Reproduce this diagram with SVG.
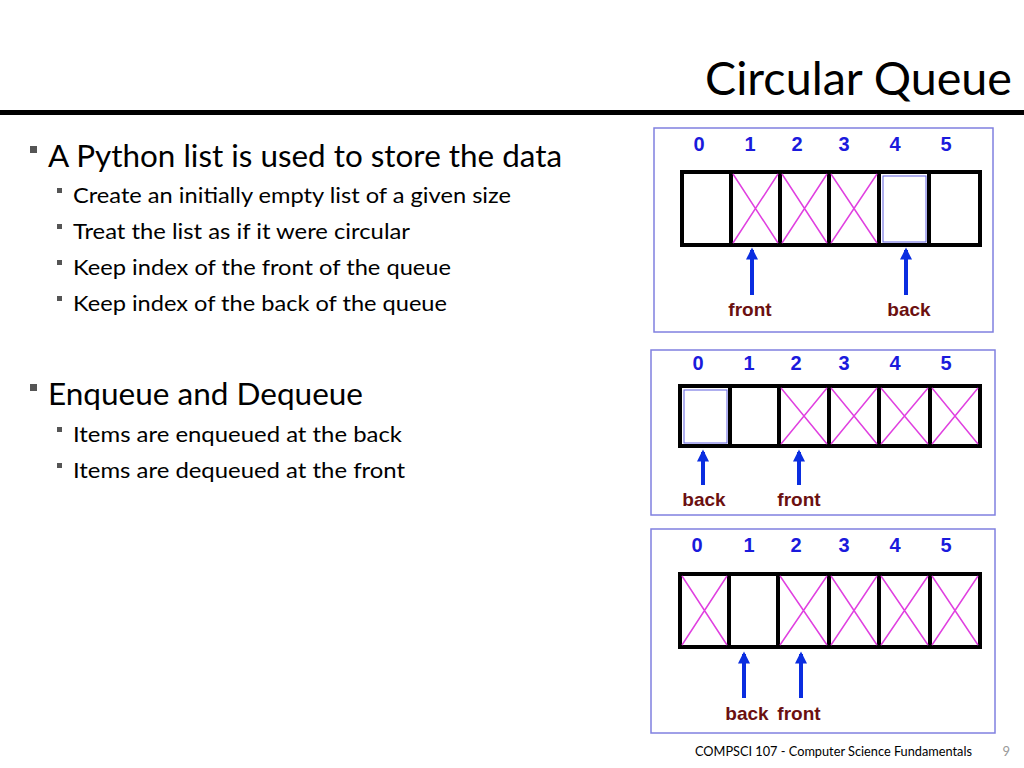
<svg xmlns="http://www.w3.org/2000/svg" width="1024" height="768" viewBox="0 0 1024 768">
<defs>
<style>
.t{font-family:"Lato","Liberation Sans",sans-serif;fill:#000}
.n{font-family:"Liberation Sans",sans-serif;font-weight:bold;font-size:20px;fill:#1a1adc;text-anchor:middle}
.l{font-family:"Liberation Sans",sans-serif;font-weight:bold;font-size:19px;fill:#6b1010;text-anchor:middle}
.pn{fill:#fff;stroke:#8080e0;stroke-width:1.5}
.c{fill:#fff;stroke:#000;stroke-width:4}
.x{stroke:#e040e0;stroke-width:1.5}
.a{stroke:#0a2de0;stroke-width:4;marker-end:url(#ah)}
.b{fill:#555}
</style>
<marker id="ah" viewBox="0 0 10 10" refX="8" refY="5" markerWidth="3.5" markerHeight="3" orient="auto"><path d="M0,0L10,5L0,10z" fill="#0a2de0"/></marker>
</defs>
<rect width="1024" height="768" fill="#fff"/>
<text class="t" x="705" y="95" font-size="46" textLength="307" lengthAdjust="spacingAndGlyphs">Circular Queue</text>
<rect x="0" y="110" width="1024" height="5" fill="#000"/>
<g id="bullets">
<rect class="b" x="30" y="146" width="7" height="7"/>
<text class="t" x="48" y="167" font-size="30" textLength="514" lengthAdjust="spacingAndGlyphs">A Python list is used to store the data</text>
<rect class="b" x="57" y="188" width="5" height="5"/>
<text class="t" x="73" y="203" font-size="22" textLength="438" lengthAdjust="spacingAndGlyphs">Create an initially empty list of a given size</text>
<rect class="b" x="57" y="224" width="5" height="5"/>
<text class="t" x="73" y="239" font-size="22" textLength="337" lengthAdjust="spacingAndGlyphs">Treat the list as if it were circular</text>
<rect class="b" x="57" y="260" width="5" height="5"/>
<text class="t" x="73" y="275" font-size="22" textLength="378" lengthAdjust="spacingAndGlyphs">Keep index of the front of the queue</text>
<rect class="b" x="57" y="296" width="5" height="5"/>
<text class="t" x="73" y="311" font-size="22" textLength="374" lengthAdjust="spacingAndGlyphs">Keep index of the back of the queue</text>
<rect class="b" x="30" y="384" width="7" height="7"/>
<text class="t" x="48" y="405" font-size="30" textLength="315" lengthAdjust="spacingAndGlyphs">Enqueue and Dequeue</text>
<rect class="b" x="57" y="427" width="5" height="5"/>
<text class="t" x="73" y="442" font-size="22" textLength="329" lengthAdjust="spacingAndGlyphs">Items are enqueued at the back</text>
<rect class="b" x="57" y="463" width="5" height="5"/>
<text class="t" x="73" y="478" font-size="22" textLength="332" lengthAdjust="spacingAndGlyphs">Items are dequeued at the front</text>
</g>
<g id="panel1">
<rect class="pn" x="654" y="128" width="339" height="204"/>
<text class="n" x="699" y="151">0</text><text class="n" x="750" y="151">1</text><text class="n" x="797" y="151">2</text><text class="n" x="844" y="151">3</text><text class="n" x="895" y="151">4</text><text class="n" x="946" y="151">5</text>
<rect class="c" x="682" y="172" width="298" height="73"/>
<path d="M731,172V245M780,172V245M829,172V245M879,172V245M929,172V245" stroke="#000" stroke-width="4"/>
<path class="x" d="M733,174L778,243M778,174L733,243M782,174L827,243M827,174L782,243M831,174L877,243M877,174L831,243"/>
<rect x="883" y="176" width="43" height="66" fill="none" stroke="#6060e0" stroke-width="1"/>
<line class="a" x1="752" y1="295" x2="752" y2="250"/>
<line class="a" x1="906" y1="295" x2="906" y2="250"/>
<text class="l" x="750" y="316">front</text>
<text class="l" x="909" y="316">back</text>
</g>
<g id="panel2">
<rect class="pn" x="651" y="350" width="344" height="165"/>
<text class="n" x="698" y="370">0</text><text class="n" x="749" y="370">1</text><text class="n" x="796" y="370">2</text><text class="n" x="844" y="370">3</text><text class="n" x="895" y="370">4</text><text class="n" x="946" y="370">5</text>
<rect class="c" x="680" y="386" width="300" height="60"/>
<path d="M730,386V446M779,386V446M829,386V446M879,386V446M930,386V446" stroke="#000" stroke-width="4"/>
<path class="x" d="M781,388L827,444M827,388L781,444M831,388L877,444M877,388L831,444M881,388L928,444M928,388L881,444M932,388L978,444M978,388L932,444"/>
<rect x="684" y="390" width="43" height="53" fill="none" stroke="#6060e0" stroke-width="1"/>
<line class="a" x1="703" y1="485" x2="703" y2="452"/>
<line class="a" x1="799" y1="485" x2="799" y2="452"/>
<text class="l" x="704" y="506">back</text>
<text class="l" x="799" y="506">front</text>
</g>
<g id="panel3">
<rect class="pn" x="651" y="529" width="344" height="204"/>
<text class="n" x="697" y="552">0</text><text class="n" x="749" y="552">1</text><text class="n" x="796" y="552">2</text><text class="n" x="844" y="552">3</text><text class="n" x="895" y="552">4</text><text class="n" x="946" y="552">5</text>
<rect class="c" x="680" y="574" width="300" height="73"/>
<path d="M729,574V647M778,574V647M829,574V647M879,574V647M930,574V647" stroke="#000" stroke-width="4"/>
<path class="x" d="M682,576L727,645M727,576L682,645M780,576L827,645M827,576L780,645M831,576L877,645M877,576L831,645M881,576L928,645M928,576L881,645M932,576L978,645M978,576L932,645"/>
<line class="a" x1="744" y1="698" x2="744" y2="654"/>
<line class="a" x1="801" y1="698" x2="801" y2="654"/>
<text class="l" x="747" y="720">back</text>
<text class="l" x="799" y="720">front</text>
</g>
<text class="t" x="695" y="756" font-size="13" textLength="277" lengthAdjust="spacingAndGlyphs">COMPSCI 107 - Computer Science Fundamentals</text>
<text class="t" x="1010" y="756" font-size="13" text-anchor="end" style="fill:#999">9</text>
</svg>
